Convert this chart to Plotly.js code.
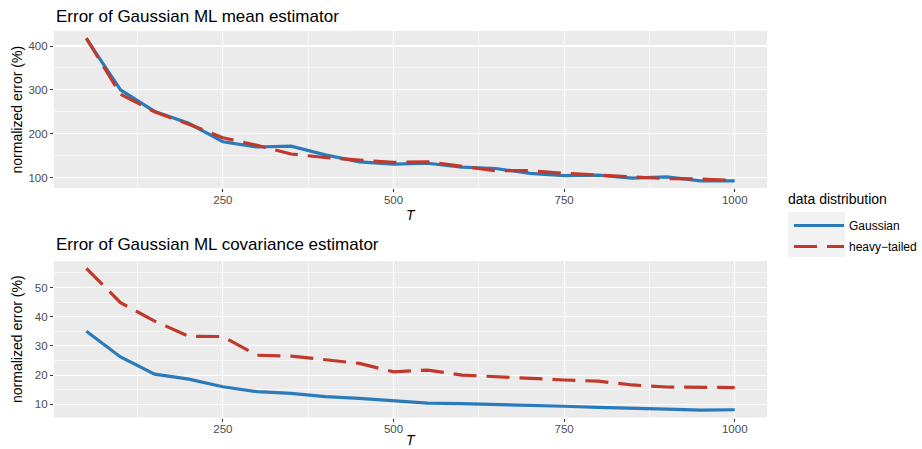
<!DOCTYPE html>
<html>
<head>
<meta charset="utf-8">
<script src="https://cdn.plot.ly/plotly-3.0.1.min.js"></script>
<style>html,body{margin:0;padding:0;background:#fff;}#chart{width:922px;height:449px;}</style>
</head>
<body>
<div id="chart"></div>
<script>
// ---- data ----
const T = [50,100,150,200,250,300,350,400,450,500,550,600,650,700,750,800,850,900,950,1000];
const meanGaussian = [417,300,251,224,182,170,172,152,136,131,133,124,121,110,105,106,99,102,93,93];
const meanHeavy    = [418,290,250,222,191,174,154,146,140,135,136,126,116,116,110,106,102,98,97,94];
const covGaussian  = [35.0,26.2,20.3,18.6,16.0,14.3,13.7,12.6,12.0,11.1,10.4,10.2,9.9,9.8,9.3,8.9,8.5,8.3,8.0,8.1];
const covHeavy     = [56.6,44.8,38.5,33.3,33.2,26.8,26.5,25.3,24.0,21.1,21.7,20.0,19.4,18.9,18.3,17.9,16.6,15.9,15.8,15.7];
const seriesNames  = ['Gaussian','heavy\u2212tailed'];
const panelTitles  = ['Error of Gaussian ML mean estimator','Error of Gaussian ML covariance estimator'];
const legendTitle  = 'data distribution';
const yTitle = 'normalized error (%)';
const xTitle = '<i>T</i>';
const xTicks = [250,500,750,1000];
const meanTicks = [100,200,300,400];
const covTicks = [10,20,30,40,50];

const W = 922, H = 449;
const px = v => v / W;
const py = v => 1 - v / H;

const blue = '#2B7BBA', red = '#C0392B';
const FONT = 'Liberation Sans, Arial, sans-serif';

const traces = [
  {x:T, y:meanGaussian, xaxis:'x', yaxis:'y', name:seriesNames[0], legendgroup:'g', mode:'lines',
   line:{color:blue, width:3.2}, showlegend:true},
  {x:T, y:meanHeavy, xaxis:'x', yaxis:'y', name:seriesNames[1], legendgroup:'h', mode:'lines',
   line:{color:red, width:3.2, dash:'23px,10px'}, showlegend:true},
  {x:T, y:covGaussian, xaxis:'x2', yaxis:'y2', name:seriesNames[0], legendgroup:'g', mode:'lines',
   line:{color:blue, width:3.2}, showlegend:false},
  {x:T, y:covHeavy, xaxis:'x2', yaxis:'y2', name:seriesNames[1], legendgroup:'h', mode:'lines',
   line:{color:red, width:3.2, dash:'23px,10px'}, showlegend:false}
];

function xax(anchor) {
  return {
    domain:[px(54), px(768)], anchor:anchor, range:[2.5,1047.5],
    tickvals:xTicks, ticktext:xTicks.map(String),
    showgrid:true, gridcolor:'#ffffff', gridwidth:1.1,
    minor:{tickvals:[125,375,625,875], showgrid:true, gridcolor:'#ffffff', gridwidth:0.55, ticks:''},
    ticks:'outside', ticklen:3, tickcolor:'#333333', tickwidth:1,
    ticklabelstandoff:-2,
    tickfont:{family:FONT, size:11.5, color:'#4D4D4D'},
    zeroline:false, showline:false, fixedrange:true
  };
}
function yax(anchor, domain, range, ticks, minors) {
  return {
    domain:domain, anchor:anchor, range:range,
    tickvals:ticks, ticktext:ticks.map(String),
    showgrid:true, gridcolor:'#ffffff', gridwidth:1.1,
    minor:{tickvals:minors, showgrid:true, gridcolor:'#ffffff', gridwidth:0.55, ticks:''},
    ticks:'outside', ticklen:3, tickcolor:'#333333', tickwidth:1,
    tickfont:{family:FONT, size:11.5, color:'#4D4D4D'},
    zeroline:false, showline:false, fixedrange:true
  };
}

const layout = {
  width:W, height:H,
  margin:{l:0,r:0,t:0,b:0},
  paper_bgcolor:'#ffffff', plot_bgcolor:'#EBEBEB',
  font:{family:FONT, color:'#000000'},
  xaxis: xax('y'),
  yaxis: yax('x', [py(188), py(31)], [76.6,434.2], meanTicks, [150,250,350]),
  xaxis2: xax('y2'),
  yaxis2: yax('x2', [py(417.5), py(261)], [5.45,59.1], covTicks, [15,25,35,45,55]),
  showlegend:true,
  legend:{
    x:px(790), y:py(211), xanchor:'left', yanchor:'top',
    bgcolor:'rgba(0,0,0,0)', borderwidth:0,
    font:{family:FONT, size:12, color:'#000'},
    tracegroupgap:2, itemwidth:50
  },
  shapes:[
    {type:'rect', xref:'paper', yref:'paper', x0:px(789), x1:px(846), y0:py(257), y1:py(212),
     fillcolor:'#F2F2F2', line:{width:0}, layer:'below'}
  ],
  annotations:[
    {text:panelTitles[0], xref:'paper', yref:'paper', x:px(54), y:py(16), xanchor:'left', yanchor:'middle',
     showarrow:false, font:{family:FONT, size:17, color:'#000'}},
    {text:panelTitles[1], xref:'paper', yref:'paper', x:px(54), y:py(244), xanchor:'left', yanchor:'middle',
     showarrow:false, font:{family:FONT, size:17, color:'#000'}},
    {text:xTitle, xref:'paper', yref:'paper', x:px(411), y:py(215), xanchor:'center', yanchor:'middle',
     showarrow:false, font:{family:FONT, size:14, color:'#000'}},
    {text:xTitle, xref:'paper', yref:'paper', x:px(411), y:py(440), xanchor:'center', yanchor:'middle',
     showarrow:false, font:{family:FONT, size:14, color:'#000'}},
    {text:yTitle, xref:'paper', yref:'paper', x:px(17), y:py(109.5), xanchor:'center', yanchor:'middle',
     textangle:-90, showarrow:false, font:{family:FONT, size:14, color:'#000'}},
    {text:yTitle, xref:'paper', yref:'paper', x:px(17), y:py(339), xanchor:'center', yanchor:'middle',
     textangle:-90, showarrow:false, font:{family:FONT, size:14, color:'#000'}},
    {text:legendTitle, xref:'paper', yref:'paper', x:px(787), y:py(199), xanchor:'left', yanchor:'middle',
     showarrow:false, font:{family:FONT, size:14, color:'#000'}}
  ]
};

Plotly.newPlot('chart', traces, layout, {displayModeBar:false, staticPlot:true});
</script>
</body>
</html>
